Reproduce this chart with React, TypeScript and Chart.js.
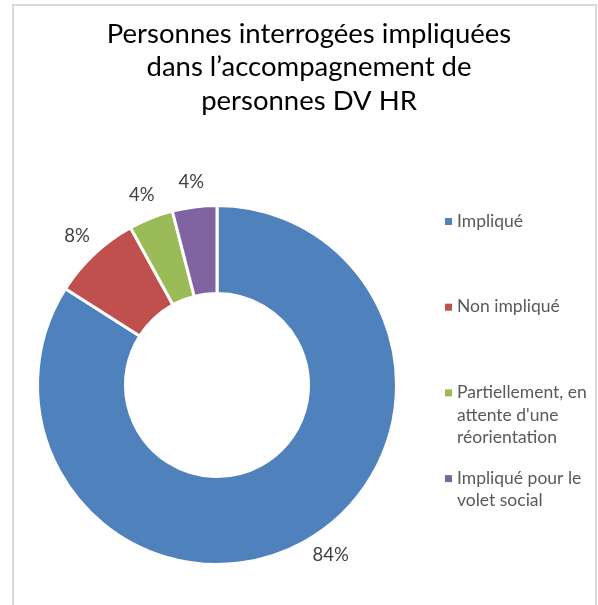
import React, { useEffect, useRef } from "react";
import { Chart, registerables } from "chart.js";

Chart.register(...registerables);

const TITLE_LINES = ["Personnes interrogées impliquées", "dans l’accompagnement de", "personnes DV HR"];
const CATEGORIES = [
  "Impliqué",
  "Non impliqué",
  "Partiellement, en attente d'une réorientation",
  "Impliqué pour le volet social",
];
const VALUES = [84, 8, 4, 4];
const COLORS = ["#4F81BD", "#C0504D", "#9BBB59", "#8064A2"];

const FONT = "Lato, 'Open Sans', sans-serif";

function wrap(ctx: CanvasRenderingContext2D, text: string, maxW: number): string[] {
  const words = text.split(" ");
  const lines: string[] = [];
  let cur = "";
  for (const w of words) {
    const t = cur ? cur + " " + w : w;
    if (cur && ctx.measureText(t).width > maxW) {
      lines.push(cur);
      cur = w;
    } else cur = t;
  }
  if (cur) lines.push(cur);
  return lines;
}

const decor = {
  id: "decor",
  afterDraw(chart: any) {
    const ctx: CanvasRenderingContext2D = chart.ctx;
    const area = chart.chartArea;
    ctx.save();
    // title
    ctx.fillStyle = "#000000";
    ctx.font = `27.5px ${FONT}`;
    ctx.textAlign = "center";
    ctx.textBaseline = "middle";
    TITLE_LINES.forEach((l, i) => ctx.fillText(l, 309, 34 + i * 33.5));

    // data labels
    const meta = chart.getDatasetMeta(0);
    const total = VALUES.reduce((a, b) => a + b, 0);
    ctx.font = `18.5px ${FONT}`;
    ctx.fillStyle = "#404040";
    meta.data.forEach((arc: any, i: number) => {
      const p = arc.getProps(["x", "y", "startAngle", "endAngle", "outerRadius"], true);
      const mid = (p.startAngle + p.endAngle) / 2;
      const r = p.outerRadius + 25;
      let lx = p.x + Math.cos(mid) * r;
      let ly = p.y + Math.sin(mid) * r;
      const maxY = area.bottom - 11;
      if (ly > maxY) {
        ly = maxY;
        const dy = ly - p.y;
        lx = p.x + Math.sign(Math.cos(mid)) * Math.sqrt(Math.max(r * r - dy * dy, 0));
      }
      ctx.fillText(Math.round((VALUES[i] / total) * 100) + "%", lx, ly);
    });

    // legend
    ctx.font = `17.5px ${FONT}`;
    ctx.textAlign = "left";
    const legX = 445;
    const textX = 457;
    const top = 221;
    const step = 85.7;
    const lineH = 22.7;
    CATEGORIES.forEach((c, i) => {
      const y0 = top + i * step;
      ctx.fillStyle = COLORS[i];
      ctx.fillRect(legX, y0 - 3, 7, 7);
      ctx.fillStyle = "#595959";
      wrap(ctx, c, 136).forEach((l, j) => ctx.fillText(l, textX, y0 + j * lineH));
    });
    ctx.restore();
  },
};

export default function App() {
  const ref = useRef<HTMLCanvasElement>(null);
  useEffect(() => {
    if (!ref.current) return;
    const chart = new Chart(ref.current, {
      type: "doughnut",
      data: {
        labels: CATEGORIES,
        datasets: [
          {
            data: VALUES,
            backgroundColor: COLORS,
            borderColor: "#ffffff",
            borderWidth: 3,
          },
        ],
      },
      options: {
        responsive: false,
        animation: false,
        cutout: "51%",
        layout: { padding: { left: 36, right: 200, top: 204, bottom: 39 } },
        plugins: {
          legend: { display: false },
          title: { display: false },
          tooltip: { enabled: false },
        },
      },
      plugins: [decor],
    });
    return () => chart.destroy();
  }, []);
  return (
    <div style={{ position: "fixed", left: 0, top: 0, width: 598, height: 605, background: "#fff", overflow: "hidden" }}>
      <div
        style={{
          position: "absolute",
          left: 12,
          top: 4,
          width: 585,
          height: 700,
          border: "2px solid #d9d9d9",
          boxSizing: "border-box",
        }}
      />
      <canvas ref={ref} width={598} height={605} style={{ position: "absolute", left: 0, top: 0 }} />
    </div>
  );
}
